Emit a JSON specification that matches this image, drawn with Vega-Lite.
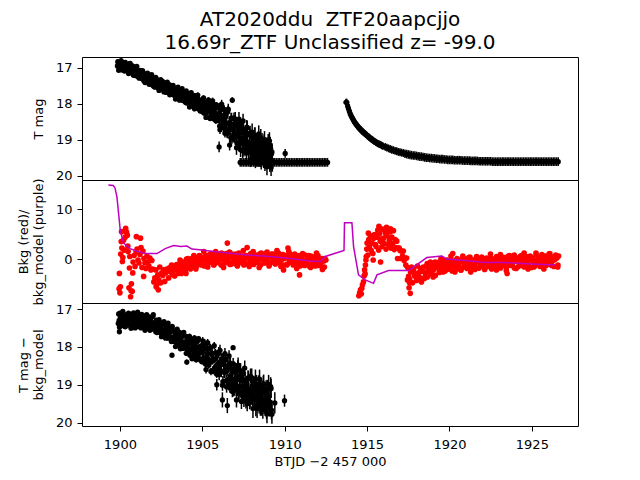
{
"$schema": "https://vega.github.io/schema/vega-lite/v6.json",
"background": "white",
"padding": {"left": 16, "top": 9, "right": 10, "bottom": 8},
"title": {"text": ["AT2020ddu\u00a0 ZTF20aapcjjo", "16.69r_ZTF Unclassified z= -99.0"], "font": "DejaVu Sans", "fontSize": 20, "fontWeight": "normal", "color": "black", "anchor": "middle", "frame": "group", "offset": 4, "lineHeight": 23},
"config": {
  "font": "DejaVu Sans",
  "view": {"stroke": "black", "strokeWidth": 1},
  "axis": {"grid": false, "domain": false, "tickColor": "black", "tickSize": 5, "tickWidth": 1, "labelColor": "black", "labelFontSize": 13, "labelFont": "DejaVu Sans", "labelPadding": 5, "titleFont": "DejaVu Sans", "titleFontSize": 13, "titleFontWeight": "normal", "titleColor": "black", "titlePadding": 10, "titleLineHeight": 15}
},
"datasets": {
"p1": [
{"x":1899.85,"m":16.95,"e":0.03},{"x":1899.90,"m":16.84,"e":0.03},{"x":1899.95,"m":17.00,"e":0.03},{"x":1900.00,"m":16.93,"e":0.03},{"x":1900.05,"m":17.05,"e":0.03},{"x":1900.10,"m":16.90,"e":0.03},{"x":1900.15,"m":16.97,"e":0.03},{"x":1900.20,"m":16.86,"e":0.03},{"x":1900.25,"m":17.01,"e":0.03},{"x":1900.30,"m":17.05,"e":0.03},{"x":1900.35,"m":16.95,"e":0.03},{"x":1900.40,"m":16.92,"e":0.03},{"x":1900.45,"m":17.02,"e":0.03},{"x":1900.50,"m":17.10,"e":0.03},{"x":1900.55,"m":16.89,"e":0.03},{"x":1900.60,"m":17.08,"e":0.03},{"x":1900.65,"m":17.02,"e":0.03},{"x":1900.70,"m":17.05,"e":0.03},{"x":1900.75,"m":16.98,"e":0.03},{"x":1900.80,"m":17.18,"e":0.03},{"x":1900.85,"m":17.09,"e":0.03},{"x":1900.90,"m":17.05,"e":0.03},{"x":1900.95,"m":17.18,"e":0.03},{"x":1901.00,"m":17.01,"e":0.03},{"x":1901.05,"m":17.17,"e":0.03},{"x":1901.10,"m":17.25,"e":0.03},{"x":1901.15,"m":17.10,"e":0.03},{"x":1901.20,"m":17.16,"e":0.03},{"x":1901.25,"m":17.27,"e":0.03},{"x":1901.30,"m":17.10,"e":0.03},{"x":1901.35,"m":17.23,"e":0.03},{"x":1901.40,"m":17.18,"e":0.03},{"x":1901.45,"m":17.36,"e":0.03},{"x":1901.50,"m":17.18,"e":0.03},{"x":1901.55,"m":17.31,"e":0.03},{"x":1901.60,"m":17.26,"e":0.03},{"x":1901.65,"m":17.35,"e":0.03},{"x":1901.70,"m":17.18,"e":0.03},{"x":1901.75,"m":17.33,"e":0.03},{"x":1901.80,"m":17.40,"e":0.03},{"x":1901.85,"m":17.38,"e":0.03},{"x":1901.90,"m":17.25,"e":0.03},{"x":1901.95,"m":17.44,"e":0.03},
{"x":1902.00,"m":17.37,"e":0.04},{"x":1902.05,"m":17.51,"e":0.04},{"x":1902.10,"m":17.33,"e":0.04},{"x":1902.15,"m":17.42,"e":0.04},{"x":1902.20,"m":17.30,"e":0.04},{"x":1902.25,"m":17.49,"e":0.04},{"x":1902.30,"m":17.54,"e":0.04},{"x":1902.35,"m":17.42,"e":0.04},{"x":1902.40,"m":17.39,"e":0.04},{"x":1902.45,"m":17.51,"e":0.04},{"x":1902.50,"m":17.59,"e":0.04},{"x":1902.55,"m":17.37,"e":0.04},{"x":1902.60,"m":17.58,"e":0.04},{"x":1902.65,"m":17.49,"e":0.04},{"x":1902.70,"m":17.53,"e":0.04},{"x":1902.75,"m":17.46,"e":0.04},{"x":1902.80,"m":17.68,"e":0.04},{"x":1902.85,"m":17.58,"e":0.04},{"x":1902.90,"m":17.53,"e":0.04},{"x":1902.95,"m":17.67,"e":0.04},{"x":1903.00,"m":17.47,"e":0.04},{"x":1903.05,"m":17.65,"e":0.04},{"x":1903.10,"m":17.73,"e":0.04},{"x":1903.15,"m":17.56,"e":0.04},{"x":1903.20,"m":17.63,"e":0.04},{"x":1903.25,"m":17.76,"e":0.04},{"x":1903.30,"m":17.56,"e":0.04},{"x":1903.35,"m":17.71,"e":0.04},{"x":1903.40,"m":17.65,"e":0.04},{"x":1903.45,"m":17.84,"e":0.04},
{"x":1903.50,"m":17.63,"e":0.05},{"x":1903.55,"m":17.78,"e":0.05},{"x":1903.60,"m":17.70,"e":0.05},{"x":1903.65,"m":17.81,"e":0.05},{"x":1903.70,"m":17.61,"e":0.05},{"x":1903.75,"m":17.78,"e":0.05},{"x":1903.80,"m":17.86,"e":0.05},{"x":1903.85,"m":17.83,"e":0.05},{"x":1903.90,"m":17.69,"e":0.05},{"x":1903.95,"m":17.89,"e":0.05},{"x":1904.00,"m":17.80,"e":0.05},{"x":1904.05,"m":17.98,"e":0.05},{"x":1904.10,"m":17.76,"e":0.05},{"x":1904.15,"m":17.87,"e":0.05},{"x":1904.20,"m":17.72,"e":0.05},{"x":1904.25,"m":17.95,"e":0.05},{"x":1904.30,"m":18.01,"e":0.05},{"x":1904.35,"m":17.85,"e":0.05},{"x":1904.40,"m":17.81,"e":0.05},{"x":1904.45,"m":17.95,"e":0.05},
{"x":1904.50,"m":18.08,"e":0.07},{"x":1904.55,"m":17.78,"e":0.07},{"x":1904.60,"m":18.05,"e":0.07},{"x":1904.65,"m":17.94,"e":0.07},{"x":1904.70,"m":17.98,"e":0.07},{"x":1904.75,"m":17.87,"e":0.07},{"x":1904.80,"m":18.15,"e":0.07},{"x":1904.85,"m":18.04,"e":0.07},{"x":1904.90,"m":17.96,"e":0.07},{"x":1904.95,"m":18.14,"e":0.07},{"x":1905.00,"m":17.90,"e":0.07},{"x":1905.05,"m":18.13,"e":0.07},{"x":1905.10,"m":18.26,"e":0.07},{"x":1905.15,"m":17.98,"e":0.07},{"x":1905.20,"m":18.08,"e":0.07},{"x":1905.25,"m":18.26,"e":0.07},{"x":1905.30,"m":17.95,"e":0.07},{"x":1905.35,"m":18.18,"e":0.07},{"x":1905.40,"m":18.08,"e":0.07},{"x":1905.45,"m":18.38,"e":0.07},
{"x":1905.50,"m":18.05,"e":0.09},{"x":1905.55,"m":18.28,"e":0.09},{"x":1905.60,"m":18.16,"e":0.09},{"x":1905.65,"m":18.32,"e":0.09},{"x":1905.70,"m":18.01,"e":0.09},{"x":1905.75,"m":18.26,"e":0.09},{"x":1905.80,"m":18.38,"e":0.09},{"x":1905.85,"m":18.33,"e":0.09},{"x":1905.90,"m":18.10,"e":0.09},{"x":1905.95,"m":18.42,"e":0.09},
{"x":1906.00,"m":18.27,"e":0.12},{"x":1906.02,"m":19.20,"e":0.15},{"x":1906.05,"m":18.62,"e":0.12},{"x":1906.10,"m":18.18,"e":0.12},{"x":1906.15,"m":18.40,"e":0.12},{"x":1906.20,"m":18.09,"e":0.12},{"x":1906.25,"m":18.54,"e":0.12},{"x":1906.30,"m":18.67,"e":0.12},{"x":1906.35,"m":18.36,"e":0.12},{"x":1906.40,"m":18.28,"e":0.12},{"x":1906.45,"m":18.57,"e":0.12},
{"x":1906.50,"m":18.79,"e":0.15},{"x":1906.55,"m":18.22,"e":0.15},{"x":1906.60,"m":18.74,"e":0.15},{"x":1906.65,"m":18.53,"e":0.15},{"x":1906.66,"m":19.15,"e":0.15},{"x":1906.70,"m":18.62,"e":0.15},{"x":1906.75,"m":18.41,"e":0.15},{"x":1906.80,"m":18.96,"e":0.15},{"x":1906.82,"m":17.90,"e":0.08},{"x":1906.85,"m":18.72,"e":0.15},{"x":1906.90,"m":18.58,"e":0.15},{"x":1906.95,"m":18.93,"e":0.15},
{"x":1907.00,"m":18.43,"e":0.2},{"x":1907.05,"m":18.88,"e":0.2},{"x":1907.10,"m":19.09,"e":0.2},{"x":1907.15,"m":18.62,"e":0.2},{"x":1907.20,"m":18.79,"e":0.2},{"x":1907.25,"m":19.12,"e":0.2},{"x":1907.30,"m":18.57,"e":0.2},{"x":1907.35,"m":18.97,"e":0.2},{"x":1907.40,"m":18.80,"e":0.2},{"x":1907.45,"m":19.31,"e":0.2},{"x":1907.50,"m":18.72,"e":0.2},{"x":1907.55,"m":19.12,"e":0.2},{"x":1907.60,"m":18.91,"e":0.2},{"x":1907.65,"m":19.20,"e":0.2},{"x":1907.70,"m":18.65,"e":0.2},{"x":1907.75,"m":19.09,"e":0.2},{"x":1907.80,"m":19.30,"e":0.2},{"x":1907.85,"m":19.20,"e":0.2},{"x":1907.90,"m":18.81,"e":0.2},{"x":1907.95,"m":19.36,"e":0.2},
{"x":1908.00,"m":19.11,"e":0.24},{"x":1908.05,"m":19.46,"e":0.24},{"x":1908.10,"m":19.01,"e":0.24},{"x":1908.15,"m":19.21,"e":0.24},{"x":1908.20,"m":18.89,"e":0.24},{"x":1908.25,"m":19.34,"e":0.24},{"x":1908.30,"m":19.45,"e":0.24},{"x":1908.35,"m":19.13,"e":0.24},{"x":1908.40,"m":19.04,"e":0.24},{"x":1908.45,"m":19.32,"e":0.24},{"x":1908.50,"m":19.52,"e":0.24},{"x":1908.55,"m":18.94,"e":0.24},{"x":1908.60,"m":19.45,"e":0.24},{"x":1908.65,"m":19.23,"e":0.24},{"x":1908.70,"m":19.31,"e":0.24},{"x":1908.75,"m":19.09,"e":0.24},{"x":1908.80,"m":19.63,"e":0.24},{"x":1908.85,"m":19.37,"e":0.24},{"x":1908.90,"m":19.22,"e":0.24},{"x":1908.95,"m":19.57,"e":0.24},{"x":1909.00,"m":19.08,"e":0.24},{"x":1909.05,"m":19.49,"e":0.24},{"x":1909.10,"m":19.66,"e":0.24},{"x":1909.15,"m":19.25,"e":0.24},{"x":1909.20,"m":19.39,"e":0.24},{"x":1909.25,"m":19.65,"e":0.24},{"x":1910.03,"m":19.38,"e":0.12},
{"x":1899.875,"m":16.83,"e":0.03},{"x":1899.925,"m":17.07,"e":0.03},{"x":1899.975,"m":16.90,"e":0.03},{"x":1900.025,"m":17.00,"e":0.03},{"x":1900.075,"m":16.80,"e":0.03},{"x":1900.125,"m":17.06,"e":0.03},{"x":1900.175,"m":16.96,"e":0.03},{"x":1900.225,"m":16.90,"e":0.03},{"x":1900.275,"m":17.09,"e":0.03},{"x":1900.325,"m":16.85,"e":0.03},{"x":1900.375,"m":17.03,"e":0.03},{"x":1900.425,"m":17.08,"e":0.03},{"x":1900.475,"m":16.93,"e":0.03},{"x":1900.525,"m":17.16,"e":0.03},{"x":1900.575,"m":16.99,"e":0.03},{"x":1900.625,"m":16.88,"e":0.03},{"x":1900.675,"m":17.12,"e":0.03},{"x":1900.725,"m":17.08,"e":0.03},{"x":1900.775,"m":16.95,"e":0.03},{"x":1900.825,"m":17.21,"e":0.03},{"x":1900.875,"m":17.03,"e":0.03},{"x":1900.925,"m":17.12,"e":0.03},{"x":1900.975,"m":17.22,"e":0.03},{"x":1901.025,"m":16.96,"e":0.03},{"x":1901.075,"m":17.19,"e":0.03},{"x":1901.125,"m":17.12,"e":0.03},{"x":1901.175,"m":17.29,"e":0.03},{"x":1901.225,"m":17.07,"e":0.03},{"x":1901.275,"m":17.19,"e":0.03},{"x":1901.325,"m":17.30,"e":0.03},{"x":1901.375,"m":17.08,"e":0.03},{"x":1901.425,"m":17.27,"e":0.03},{"x":1901.475,"m":17.18,"e":0.03},{"x":1901.525,"m":17.41,"e":0.03},{"x":1901.575,"m":17.18,"e":0.03},{"x":1901.625,"m":17.31,"e":0.03},{"x":1901.675,"m":17.15,"e":0.03},{"x":1901.725,"m":17.20,"e":0.03},{"x":1901.775,"m":17.46,"e":0.03},{"x":1901.825,"m":17.30,"e":0.03},{"x":1901.875,"m":17.40,"e":0.03},{"x":1901.925,"m":17.19,"e":0.03},{"x":1901.975,"m":17.48,"e":0.03},
{"x":1902.025,"m":17.38,"e":0.04},{"x":1902.075,"m":17.32,"e":0.04},{"x":1902.125,"m":17.54,"e":0.04},{"x":1902.175,"m":17.27,"e":0.04},{"x":1902.225,"m":17.47,"e":0.04},{"x":1902.275,"m":17.54,"e":0.04},{"x":1902.325,"m":17.37,"e":0.04},{"x":1902.375,"m":17.63,"e":0.04},{"x":1902.425,"m":17.45,"e":0.04},{"x":1902.475,"m":17.33,"e":0.04},{"x":1902.525,"m":17.58,"e":0.04},{"x":1902.575,"m":17.53,"e":0.04},{"x":1902.625,"m":17.39,"e":0.04},{"x":1902.675,"m":17.67,"e":0.04},{"x":1902.725,"m":17.48,"e":0.04},{"x":1902.775,"m":17.57,"e":0.04},{"x":1902.825,"m":17.68,"e":0.04},{"x":1902.875,"m":17.40,"e":0.04},{"x":1902.925,"m":17.65,"e":0.04},{"x":1902.975,"m":17.56,"e":0.04},{"x":1903.025,"m":17.75,"e":0.04},{"x":1903.075,"m":17.50,"e":0.04},{"x":1903.125,"m":17.62,"e":0.04},{"x":1903.175,"m":17.74,"e":0.04},{"x":1903.225,"m":17.49,"e":0.04},{"x":1903.275,"m":17.72,"e":0.04},{"x":1903.325,"m":17.59,"e":0.04},{"x":1903.375,"m":17.87,"e":0.04},{"x":1903.425,"m":17.60,"e":0.04},{"x":1903.475,"m":17.74,"e":0.04},
{"x":1903.525,"m":17.54,"e":0.05},{"x":1903.575,"m":17.61,"e":0.05},{"x":1903.625,"m":17.90,"e":0.05},{"x":1903.675,"m":17.70,"e":0.05},{"x":1903.725,"m":17.83,"e":0.05},{"x":1903.775,"m":17.58,"e":0.05},{"x":1903.825,"m":17.91,"e":0.05},{"x":1903.875,"m":17.79,"e":0.05},{"x":1903.925,"m":17.72,"e":0.05},{"x":1903.975,"m":17.96,"e":0.05},{"x":1904.025,"m":17.64,"e":0.05},{"x":1904.075,"m":17.90,"e":0.05},{"x":1904.125,"m":17.97,"e":0.05},{"x":1904.175,"m":17.74,"e":0.05},{"x":1904.225,"m":18.09,"e":0.05},{"x":1904.275,"m":17.86,"e":0.05},{"x":1904.325,"m":17.69,"e":0.05},{"x":1904.375,"m":18.01,"e":0.05},{"x":1904.425,"m":17.95,"e":0.05},{"x":1904.475,"m":17.77,"e":0.05},
{"x":1904.525,"m":18.14,"e":0.07},{"x":1904.575,"m":17.88,"e":0.07},{"x":1904.625,"m":17.98,"e":0.07},{"x":1904.675,"m":18.12,"e":0.07},{"x":1904.725,"m":17.76,"e":0.07},{"x":1904.775,"m":18.08,"e":0.07},{"x":1904.825,"m":17.96,"e":0.07},{"x":1904.875,"m":18.20,"e":0.07},{"x":1904.925,"m":17.90,"e":0.07},{"x":1904.975,"m":18.04,"e":0.07},{"x":1905.025,"m":18.22,"e":0.07},{"x":1905.075,"m":17.84,"e":0.07},{"x":1905.125,"m":18.16,"e":0.07},{"x":1905.175,"m":17.98,"e":0.07},{"x":1905.225,"m":18.38,"e":0.07},{"x":1905.275,"m":17.97,"e":0.07},{"x":1905.325,"m":18.19,"e":0.07},{"x":1905.375,"m":17.89,"e":0.07},{"x":1905.425,"m":17.98,"e":0.07},{"x":1905.475,"m":18.41,"e":0.07},
{"x":1905.525,"m":18.12,"e":0.09},{"x":1905.575,"m":18.30,"e":0.09},{"x":1905.625,"m":17.92,"e":0.09},{"x":1905.675,"m":18.41,"e":0.09},{"x":1905.725,"m":18.23,"e":0.09},{"x":1905.775,"m":18.13,"e":0.09},{"x":1905.825,"m":18.47,"e":0.09},{"x":1905.875,"m":18.04,"e":0.09},{"x":1905.925,"m":18.36,"e":0.09},{"x":1905.975,"m":18.46,"e":0.09},
{"x":1906.025,"m":18.10,"e":0.12},{"x":1906.075,"m":18.72,"e":0.12},{"x":1906.125,"m":18.31,"e":0.12},{"x":1906.175,"m":18.01,"e":0.12},{"x":1906.225,"m":18.59,"e":0.12},{"x":1906.275,"m":18.49,"e":0.12},{"x":1906.325,"m":18.16,"e":0.12},{"x":1906.375,"m":18.82,"e":0.12},{"x":1906.425,"m":18.36,"e":0.12},{"x":1906.475,"m":18.54,"e":0.12},
{"x":1906.525,"m":18.81,"e":0.15},{"x":1906.575,"m":18.15,"e":0.15},{"x":1906.625,"m":18.73,"e":0.15},{"x":1906.675,"m":18.52,"e":0.15},{"x":1906.725,"m":18.94,"e":0.15},{"x":1906.775,"m":18.40,"e":0.15},{"x":1906.825,"m":18.66,"e":0.15},{"x":1906.875,"m":18.93,"e":0.15},{"x":1906.925,"m":18.39,"e":0.15},{"x":1906.975,"m":18.85,"e":0.15},
{"x":1907.025,"m":18.57,"e":0.2},{"x":1907.075,"m":19.22,"e":0.2},{"x":1907.125,"m":18.57,"e":0.2},{"x":1907.175,"m":18.90,"e":0.2},{"x":1907.225,"m":18.43,"e":0.2},{"x":1907.275,"m":18.58,"e":0.2},{"x":1907.325,"m":19.28,"e":0.2},{"x":1907.375,"m":18.80,"e":0.2},{"x":1907.425,"m":19.09,"e":0.2},{"x":1907.475,"m":18.48,"e":0.2},{"x":1907.525,"m":19.27,"e":0.2},{"x":1907.575,"m":18.97,"e":0.2},{"x":1907.625,"m":18.81,"e":0.2},{"x":1907.675,"m":19.37,"e":0.2},{"x":1907.725,"m":18.67,"e":0.2},{"x":1907.775,"m":19.19,"e":0.2},{"x":1907.825,"m":19.34,"e":0.2},{"x":1907.875,"m":18.87,"e":0.2},{"x":1907.925,"m":19.56,"e":0.2},{"x":1907.975,"m":19.09,"e":0.2},
{"x":1908.025,"m":18.79,"e":0.24},{"x":1908.075,"m":19.36,"e":0.24},{"x":1908.125,"m":19.25,"e":0.24},{"x":1908.175,"m":18.90,"e":0.24},{"x":1908.225,"m":19.55,"e":0.24},{"x":1908.275,"m":19.09,"e":0.24},{"x":1908.325,"m":19.26,"e":0.24},{"x":1908.375,"m":19.51,"e":0.24},{"x":1908.425,"m":18.84,"e":0.24},{"x":1908.475,"m":19.41,"e":0.24},{"x":1908.525,"m":19.18,"e":0.24},{"x":1908.575,"m":19.59,"e":0.24},{"x":1908.625,"m":19.05,"e":0.24},{"x":1908.675,"m":19.30,"e":0.24},{"x":1908.725,"m":19.55,"e":0.24},{"x":1908.775,"m":19.00,"e":0.24},{"x":1908.825,"m":19.45,"e":0.24},{"x":1908.875,"m":19.18,"e":0.24},{"x":1908.925,"m":19.75,"e":0.24},{"x":1908.975,"m":19.17,"e":0.24},{"x":1909.025,"m":19.46,"e":0.24},{"x":1909.075,"m":19.03,"e":0.24},{"x":1909.125,"m":19.16,"e":0.24},{"x":1909.175,"m":19.77,"e":0.24},{"x":1909.225,"m":19.34,"e":0.24},
{"x":1907.3,"m":19.63,"e":0.12},{"x":1907.4,"m":19.63,"e":0.12},{"x":1907.5,"m":19.63,"e":0.12},{"x":1907.6,"m":19.63,"e":0.12},{"x":1907.7,"m":19.63,"e":0.12},{"x":1907.8,"m":19.63,"e":0.12},{"x":1907.9,"m":19.63,"e":0.12},{"x":1908.0,"m":19.63,"e":0.12},{"x":1908.1,"m":19.63,"e":0.12},{"x":1908.2,"m":19.63,"e":0.12},{"x":1908.3,"m":19.63,"e":0.12},{"x":1908.4,"m":19.63,"e":0.12},{"x":1908.5,"m":19.63,"e":0.12},{"x":1908.6,"m":19.63,"e":0.12},{"x":1908.7,"m":19.63,"e":0.12},{"x":1908.8,"m":19.63,"e":0.12},{"x":1908.9,"m":19.63,"e":0.12},{"x":1909.0,"m":19.63,"e":0.12},{"x":1909.1,"m":19.63,"e":0.12},{"x":1909.2,"m":19.63,"e":0.12},{"x":1909.3,"m":19.63,"e":0.12},{"x":1909.4,"m":19.63,"e":0.12},{"x":1909.5,"m":19.63,"e":0.12},{"x":1909.6,"m":19.63,"e":0.12},{"x":1909.7,"m":19.63,"e":0.12},{"x":1909.8,"m":19.63,"e":0.12},{"x":1909.9,"m":19.63,"e":0.12},{"x":1910.0,"m":19.63,"e":0.12},{"x":1910.1,"m":19.63,"e":0.12},{"x":1910.2,"m":19.63,"e":0.12},{"x":1910.3,"m":19.63,"e":0.12},{"x":1910.4,"m":19.63,"e":0.12},{"x":1910.5,"m":19.63,"e":0.12},{"x":1910.6,"m":19.63,"e":0.12},{"x":1910.7,"m":19.63,"e":0.12},{"x":1910.8,"m":19.63,"e":0.12},{"x":1910.9,"m":19.63,"e":0.12},{"x":1911.0,"m":19.63,"e":0.12},{"x":1911.1,"m":19.63,"e":0.12},{"x":1911.2,"m":19.63,"e":0.12},{"x":1911.3,"m":19.63,"e":0.12},{"x":1911.4,"m":19.63,"e":0.12},{"x":1911.5,"m":19.63,"e":0.12},{"x":1911.6,"m":19.63,"e":0.12},{"x":1911.7,"m":19.63,"e":0.12},{"x":1911.8,"m":19.63,"e":0.12},{"x":1911.9,"m":19.63,"e":0.12},{"x":1912.0,"m":19.63,"e":0.12},{"x":1912.1,"m":19.63,"e":0.12},{"x":1912.2,"m":19.63,"e":0.12},{"x":1912.3,"m":19.63,"e":0.12},{"x":1912.4,"m":19.63,"e":0.12},{"x":1912.5,"m":19.63,"e":0.12},{"x":1912.6,"m":19.63,"e":0.12},
{"x":1913.72,"m":17.96,"e":0.1},{"x":1913.77,"m":17.96,"e":0.1},{"x":1913.82,"m":18.06,"e":0.1},{"x":1913.87,"m":18.13,"e":0.1},{"x":1913.92,"m":18.20,"e":0.1},{"x":1913.97,"m":18.27,"e":0.1},{"x":1914.02,"m":18.32,"e":0.1},{"x":1914.07,"m":18.37,"e":0.1},{"x":1914.12,"m":18.41,"e":0.1},{"x":1914.17,"m":18.45,"e":0.1},{"x":1914.22,"m":18.49,"e":0.1},{"x":1914.27,"m":18.53,"e":0.1},{"x":1914.32,"m":18.56,"e":0.1},{"x":1914.37,"m":18.59,"e":0.1},{"x":1914.42,"m":18.62,"e":0.1},{"x":1914.47,"m":18.65,"e":0.1},{"x":1914.52,"m":18.67,"e":0.1},{"x":1914.57,"m":18.70,"e":0.1},{"x":1914.62,"m":18.72,"e":0.1},{"x":1914.67,"m":18.75,"e":0.1},{"x":1914.72,"m":18.77,"e":0.1},{"x":1914.77,"m":18.79,"e":0.1},{"x":1914.82,"m":18.81,"e":0.1},{"x":1914.87,"m":18.83,"e":0.1},{"x":1914.92,"m":18.85,"e":0.1},{"x":1914.97,"m":18.87,"e":0.1},{"x":1915.02,"m":18.89,"e":0.1},{"x":1915.07,"m":18.91,"e":0.1},{"x":1915.12,"m":18.93,"e":0.1},{"x":1915.17,"m":18.95,"e":0.1},{"x":1915.22,"m":18.97,"e":0.1},{"x":1915.27,"m":18.99,"e":0.1},{"x":1915.32,"m":19.00,"e":0.1},{"x":1915.37,"m":19.02,"e":0.1},{"x":1915.42,"m":19.04,"e":0.1},{"x":1915.47,"m":19.05,"e":0.1},{"x":1915.52,"m":19.07,"e":0.1},{"x":1915.57,"m":19.08,"e":0.1},{"x":1915.62,"m":19.10,"e":0.1},{"x":1915.67,"m":19.11,"e":0.1},{"x":1915.72,"m":19.12,"e":0.1},{"x":1915.77,"m":19.13,"e":0.1},{"x":1915.82,"m":19.14,"e":0.1},{"x":1915.87,"m":19.15,"e":0.1},{"x":1915.92,"m":19.17,"e":0.1},{"x":1915.97,"m":19.18,"e":0.1},
{"x":1916.1,"m":19.20,"e":0.11},{"x":1916.2,"m":19.22,"e":0.11},{"x":1916.3,"m":19.24,"e":0.11},{"x":1916.4,"m":19.26,"e":0.11},{"x":1916.5,"m":19.28,"e":0.11},{"x":1916.6,"m":19.29,"e":0.11},{"x":1916.7,"m":19.31,"e":0.11},{"x":1916.8,"m":19.32,"e":0.11},{"x":1916.9,"m":19.34,"e":0.11},{"x":1917.0,"m":19.35,"e":0.11},{"x":1917.1,"m":19.36,"e":0.11},{"x":1917.2,"m":19.37,"e":0.11},{"x":1917.3,"m":19.39,"e":0.12},{"x":1917.4,"m":19.40,"e":0.12},{"x":1917.5,"m":19.41,"e":0.12},{"x":1917.6,"m":19.42,"e":0.12},{"x":1917.7,"m":19.43,"e":0.12},{"x":1917.8,"m":19.44,"e":0.12},{"x":1917.9,"m":19.44,"e":0.12},{"x":1918.0,"m":19.45,"e":0.12},{"x":1918.1,"m":19.46,"e":0.12},{"x":1918.2,"m":19.47,"e":0.12},{"x":1918.3,"m":19.47,"e":0.12},{"x":1918.4,"m":19.48,"e":0.12},{"x":1918.5,"m":19.49,"e":0.12},{"x":1918.6,"m":19.50,"e":0.12},{"x":1918.7,"m":19.50,"e":0.12},{"x":1918.8,"m":19.51,"e":0.12},{"x":1918.9,"m":19.51,"e":0.12},{"x":1919.0,"m":19.52,"e":0.12},{"x":1919.1,"m":19.52,"e":0.12},{"x":1919.2,"m":19.53,"e":0.12},{"x":1919.3,"m":19.53,"e":0.12},{"x":1919.4,"m":19.54,"e":0.12},{"x":1919.5,"m":19.54,"e":0.12},{"x":1919.6,"m":19.54,"e":0.12},{"x":1919.7,"m":19.55,"e":0.12},{"x":1919.8,"m":19.55,"e":0.12},{"x":1919.9,"m":19.56,"e":0.12},{"x":1920.0,"m":19.56,"e":0.12},{"x":1920.1,"m":19.56,"e":0.12},{"x":1920.2,"m":19.56,"e":0.12},{"x":1920.3,"m":19.57,"e":0.12},{"x":1920.4,"m":19.57,"e":0.12},{"x":1920.5,"m":19.57,"e":0.12},{"x":1920.6,"m":19.57,"e":0.12},{"x":1920.7,"m":19.57,"e":0.12},{"x":1920.8,"m":19.58,"e":0.12},{"x":1920.9,"m":19.58,"e":0.12},{"x":1921.0,"m":19.58,"e":0.12},{"x":1921.1,"m":19.58,"e":0.12},{"x":1921.2,"m":19.58,"e":0.12},{"x":1921.3,"m":19.59,"e":0.12},{"x":1921.4,"m":19.59,"e":0.12},{"x":1921.5,"m":19.59,"e":0.12},{"x":1921.6,"m":19.59,"e":0.12},{"x":1921.7,"m":19.59,"e":0.12},{"x":1921.8,"m":19.60,"e":0.12},{"x":1921.9,"m":19.60,"e":0.12},{"x":1922.0,"m":19.60,"e":0.12},{"x":1922.1,"m":19.60,"e":0.12},{"x":1922.2,"m":19.60,"e":0.12},{"x":1922.3,"m":19.60,"e":0.12},{"x":1922.4,"m":19.60,"e":0.12},{"x":1922.5,"m":19.60,"e":0.12},{"x":1922.6,"m":19.61,"e":0.12},{"x":1922.7,"m":19.61,"e":0.12},{"x":1922.8,"m":19.61,"e":0.12},{"x":1922.9,"m":19.61,"e":0.12},{"x":1923.0,"m":19.61,"e":0.12},{"x":1923.1,"m":19.61,"e":0.12},{"x":1923.2,"m":19.61,"e":0.12},{"x":1923.3,"m":19.61,"e":0.12},{"x":1923.4,"m":19.61,"e":0.12},{"x":1923.5,"m":19.61,"e":0.12},{"x":1923.6,"m":19.61,"e":0.12},{"x":1923.7,"m":19.61,"e":0.12},{"x":1923.8,"m":19.61,"e":0.12},{"x":1923.9,"m":19.61,"e":0.12},{"x":1924.0,"m":19.61,"e":0.12},{"x":1924.1,"m":19.61,"e":0.12},{"x":1924.2,"m":19.61,"e":0.12},{"x":1924.3,"m":19.61,"e":0.12},{"x":1924.4,"m":19.61,"e":0.12},{"x":1924.5,"m":19.61,"e":0.12},{"x":1924.6,"m":19.61,"e":0.12},{"x":1924.7,"m":19.61,"e":0.12},{"x":1924.8,"m":19.61,"e":0.12},{"x":1924.9,"m":19.61,"e":0.12},{"x":1925.0,"m":19.61,"e":0.12},{"x":1925.1,"m":19.61,"e":0.12},{"x":1925.2,"m":19.61,"e":0.12},{"x":1925.3,"m":19.61,"e":0.12},{"x":1925.4,"m":19.61,"e":0.12},{"x":1925.5,"m":19.61,"e":0.12},{"x":1925.6,"m":19.61,"e":0.12},{"x":1925.7,"m":19.61,"e":0.12},{"x":1925.8,"m":19.61,"e":0.12},{"x":1925.9,"m":19.61,"e":0.12},{"x":1926.0,"m":19.61,"e":0.12},{"x":1926.1,"m":19.61,"e":0.12},{"x":1926.2,"m":19.61,"e":0.12},{"x":1926.3,"m":19.61,"e":0.12},{"x":1926.4,"m":19.61,"e":0.12},{"x":1926.5,"m":19.61,"e":0.12},{"x":1926.6,"m":19.61,"e":0.12}
],
"bk": [
{"x":1899.95,"b":-6.0},{"x":1899.97,"b":-2.9},{"x":1900.00,"b":-6.8},{"x":1900.03,"b":-5.6},{"x":1900.05,"b":1.0},{"x":1900.08,"b":3.5},{"x":1900.10,"b":5.5},{"x":1900.12,"b":2.2},{"x":1900.15,"b":-0.5},{"x":1900.18,"b":0.3},{"x":1900.22,"b":3.8},{"x":1900.27,"b":1.8},{"x":1900.32,"b":4.4},{"x":1900.35,"b":6.2},{"x":1900.40,"b":5.4},{"x":1900.45,"b":4.8},{"x":1900.48,"b":2.6},{"x":1900.50,"b":1.5},{"x":1900.55,"b":-5.8},{"x":1900.58,"b":-1.8},{"x":1900.60,"b":0.5},{"x":1900.65,"b":-7.6},{"x":1900.68,"b":-6.4},{"x":1900.70,"b":-5.0},{"x":1900.75,"b":-6.5},{"x":1900.78,"b":-2.8},
{"x":1900.80,"b":-0.6},{"x":1900.86,"b":0.7},{"x":1900.92,"b":-1.5},{"x":1900.98,"b":1.4},{"x":1901.04,"b":2.0},{"x":1901.10,"b":-0.2},{"x":1901.16,"b":-0.8},{"x":1901.22,"b":0.9},{"x":1901.28,"b":2.3},{"x":1901.34,"b":-1.7},{"x":1901.40,"b":1.6},{"x":1901.46,"b":0.1},{"x":1901.00,"b":4.5},{"x":1901.25,"b":4.2},{"x":1901.44,"b":-3.5},{"x":1901.52,"b":-0.8},{"x":1901.58,"b":-1.9},{"x":1901.64,"b":0.6},{"x":1901.70,"b":-0.6},{"x":1901.76,"b":-1.4},{"x":1901.82,"b":0.2},{"x":1901.88,"b":-2.2},{"x":1901.94,"b":-0.3},
{"x":1902.00,"b":-2.0},{"x":1902.06,"b":-4.6},{"x":1902.12,"b":-3.8},{"x":1902.18,"b":-2.2},{"x":1902.24,"b":-5.2},{"x":1902.30,"b":-3.2},{"x":1902.36,"b":-4.2},{"x":1902.42,"b":-1.6},{"x":1902.48,"b":-4.8},{"x":1902.54,"b":-2.8},{"x":1902.33,"b":-6.2},{"x":1902.20,"b":-5.6},{"x":1902.60,"b":-3.3},{"x":1902.66,"b":-2.2},{"x":1902.72,"b":-4.5},{"x":1902.78,"b":-2.8},{"x":1902.84,"b":-2.0},{"x":1902.90,"b":-2.3},{"x":1902.96,"b":-3.8},{"x":1903.02,"b":-1.7},{"x":1903.08,"b":-2.6},{"x":1903.14,"b":-1.2},{"x":1903.20,"b":-3.1},{"x":1903.26,"b":-2.2},{"x":1903.32,"b":-3.4},{"x":1903.38,"b":-1.6},{"x":1903.44,"b":-1.1},{"x":1903.50,"b":-2.3},{"x":1903.56,"b":-2.6},{"x":1903.62,"b":-1.4},{"x":1903.68,"b":-0.5},{"x":1903.74,"b":-2.9},{"x":1903.80,"b":-0.8},{"x":1903.86,"b":-1.6},{"x":1903.92,"b":-1.3},{"x":1903.98,"b":-2.1},{"x":1904.04,"b":0.0},{"x":1904.10,"b":-1.0},{"x":1904.16,"b":-1.5},{"x":1904.22,"b":-0.2},{"x":1904.28,"b":-2.0},{"x":1904.34,"b":-0.5},{"x":1904.40,"b":0.2},{"x":1904.46,"b":-1.3},{"x":1904.52,"b":-0.8},{"x":1904.58,"b":0.3},{"x":1904.64,"b":-1.5},{"x":1904.70,"b":-0.3},{"x":1904.76,"b":-0.8},{"x":1904.82,"b":0.7},{"x":1904.88,"b":-1.1},{"x":1904.94,"b":0.0},{"x":1905.00,"b":-0.5},{"x":1905.06,"b":0.4},{"x":1905.12,"b":-1.4},{"x":1905.18,"b":-0.1},{"x":1905.24,"b":0.7},{"x":1905.30,"b":0.3},{"x":1905.36,"b":-0.9},{"x":1905.42,"b":0.7},{"x":1905.48,"b":-0.1},
{"x":1905.54,"b":1.1},{"x":1905.60,"b":-0.6},{"x":1905.66,"b":0.1},{"x":1905.72,"b":-1.1},{"x":1905.78,"b":0.5},{"x":1905.84,"b":0.8},{"x":1905.90,"b":-0.4},{"x":1905.96,"b":-0.7},{"x":1906.02,"b":0.2},{"x":1906.08,"b":1.0},{"x":1906.14,"b":-1.2},{"x":1906.20,"b":0.6},{"x":1906.26,"b":-0.2},{"x":1906.32,"b":0.0},{"x":1906.38,"b":-0.8},{"x":1906.44,"b":1.1},{"x":1906.50,"b":0.1},{"x":1906.52,"b":3.2},{"x":1906.56,"b":-0.5},{"x":1906.62,"b":0.7},{"x":1906.68,"b":-1.1},{"x":1906.74,"b":0.4},{"x":1906.80,"b":1.0},{"x":1906.86,"b":-0.6},{"x":1906.92,"b":-0.1},{"x":1906.98,"b":0.8},{"x":1907.04,"b":-1.0},{"x":1907.10,"b":0.2},{"x":1907.16,"b":-0.4},{"x":1907.22,"b":1.2},{"x":1907.28,"b":-0.7},{"x":1907.34,"b":0.5},{"x":1907.40,"b":-0.2},{"x":1907.46,"b":0.6},{"x":1907.52,"b":-1.2},{"x":1907.58,"b":0.1},{"x":1907.64,"b":0.7},{"x":1907.70,"b":0.4},{"x":1907.72,"b":2.3},{"x":1907.76,"b":-1.0},{"x":1907.82,"b":0.7},{"x":1907.88,"b":-0.1},{"x":1907.94,"b":1.1},{"x":1908.00,"b":-0.6},{"x":1908.06,"b":0.1},{"x":1908.12,"b":-1.1},{"x":1908.18,"b":0.5},{"x":1908.24,"b":0.8},{"x":1908.30,"b":-0.4},{"x":1908.36,"b":-0.7},{"x":1908.42,"b":0.2},{"x":1908.48,"b":1.0},{"x":1908.54,"b":-1.2},{"x":1908.60,"b":0.6},{"x":1908.66,"b":-0.2},{"x":1908.72,"b":0.0},{"x":1908.78,"b":-0.8},{"x":1908.84,"b":1.1},{"x":1908.90,"b":0.1},{"x":1908.96,"b":-0.5},{"x":1909.02,"b":0.7},{"x":1909.08,"b":-1.1},{"x":1909.14,"b":0.4},{"x":1909.20,"b":1.0},{"x":1909.26,"b":-0.6},{"x":1909.32,"b":-0.1},{"x":1909.38,"b":0.8},{"x":1909.44,"b":-1.0},{"x":1909.50,"b":0.2},{"x":1909.56,"b":-0.4},{"x":1909.62,"b":1.2},{"x":1909.68,"b":-0.7},{"x":1909.74,"b":0.5},{"x":1909.80,"b":-0.2},{"x":1909.86,"b":0.6},{"x":1909.92,"b":-1.2},{"x":1909.93,"b":-2.2},{"x":1909.98,"b":0.1},
{"x":1910.04,"b":0.7},{"x":1910.10,"b":0.3},{"x":1910.16,"b":-1.0},{"x":1910.20,"b":2.2},{"x":1910.22,"b":0.7},{"x":1910.28,"b":-0.2},{"x":1910.34,"b":1.0},{"x":1910.40,"b":-0.7},{"x":1910.46,"b":0.0},{"x":1910.52,"b":-1.2},{"x":1910.58,"b":0.3},{"x":1910.64,"b":0.7},{"x":1910.70,"b":-0.5},{"x":1910.76,"b":-0.9},{"x":1910.82,"b":0.0},{"x":1910.88,"b":0.7},{"x":1910.90,"b":-3.2},{"x":1910.94,"b":-1.4},{"x":1911.00,"b":0.4},{"x":1911.06,"b":-0.5},{"x":1911.12,"b":-0.3},{"x":1911.18,"b":-1.1},{"x":1911.24,"b":0.8},{"x":1911.30,"b":-0.2},{"x":1911.36,"b":-0.8},{"x":1911.42,"b":0.4},{"x":1911.48,"b":-1.4},{"x":1911.54,"b":0.0},{"x":1911.60,"b":0.6},{"x":1911.66,"b":-1.0},{"x":1911.72,"b":-0.5},{"x":1911.78,"b":0.4},{"x":1911.84,"b":-1.4},{"x":1911.90,"b":-0.2},{"x":1911.96,"b":-0.8},{"x":1912.02,"b":0.7},{"x":1912.08,"b":-1.2},{"x":1912.14,"b":0.0},{"x":1912.20,"b":-0.8},{"x":1912.26,"b":0.1},{"x":1912.32,"b":-1.8},{"x":1912.38,"b":-0.4},{"x":1912.44,"b":0.1},{"x":1912.50,"b":-0.2},
{"x":1903.53,"b":-2.9},{"x":1903.65,"b":-0.2},{"x":1903.77,"b":-1.9},{"x":1903.89,"b":-0.6},{"x":1904.01,"b":-2.9},{"x":1904.13,"b":0.1},{"x":1904.25,"b":-1.0},{"x":1904.37,"b":-1.5},{"x":1904.49,"b":0.7},{"x":1904.61,"b":-2.0},{"x":1904.73,"b":0.0},{"x":1904.85,"b":0.6},{"x":1904.97,"b":-1.2},{"x":1905.09,"b":1.5},{"x":1905.21,"b":-0.4},{"x":1905.33,"b":-1.6},{"x":1905.45,"b":0.9},{"x":1905.57,"b":0.3},{"x":1905.69,"b":-1.2},{"x":1905.81,"b":1.5},{"x":1905.93,"b":-0.5},{"x":1906.05,"b":0.2},{"x":1906.17,"b":1.2},{"x":1906.29,"b":-1.7},{"x":1906.41,"b":0.7},{"x":1906.53,"b":-0.3},{"x":1906.65,"b":1.4},{"x":1906.77,"b":-1.0},{"x":1906.89,"b":0.0},{"x":1907.01,"b":1.0},{"x":1907.13,"b":-1.4},{"x":1907.25,"b":0.5},{"x":1907.37,"b":-0.7},{"x":1907.49,"b":1.7},{"x":1907.61,"b":-0.9},{"x":1907.73,"b":0.3},{"x":1907.85,"b":-1.5},{"x":1907.97,"b":-1.0},{"x":1908.09,"b":1.5},{"x":1908.21,"b":-0.3},{"x":1908.33,"b":0.7},{"x":1908.45,"b":-1.7},{"x":1908.57,"b":1.2},{"x":1908.69,"b":0.0},{"x":1908.81,"b":-0.7},{"x":1908.93,"b":1.4},{"x":1909.05,"b":-1.4},{"x":1909.17,"b":0.5},{"x":1909.29,"b":1.0},{"x":1909.41,"b":-0.9},{"x":1909.53,"b":1.7},{"x":1909.65,"b":-0.2},{"x":1909.77,"b":-1.5},{"x":1909.89,"b":0.9},{"x":1910.01,"b":0.3},{"x":1910.13,"b":-1.2},{"x":1910.25,"b":1.5},{"x":1910.37,"b":-0.6},{"x":1910.49,"b":0.1},{"x":1910.61,"b":1.0},{"x":1910.73,"b":-1.9},{"x":1910.85,"b":0.5},{"x":1910.97,"b":-0.6},{"x":1911.09,"b":1.1},{"x":1911.21,"b":-1.3},{"x":1911.33,"b":-0.3},{"x":1911.45,"b":0.7},{"x":1911.57,"b":-1.7},{"x":1911.69,"b":0.1},{"x":1911.81,"b":-1.1},{"x":1911.93,"b":1.2},{"x":1912.05,"b":-1.3},{"x":1912.17,"b":-0.2},{"x":1912.29,"b":-2.1},{"x":1912.41,"b":-1.6},
{"x":1914.50,"b":-7.4},{"x":1914.55,"b":-6.8},{"x":1914.60,"b":-6.2},{"x":1914.65,"b":-7.0},{"x":1914.68,"b":-5.9},{"x":1914.72,"b":-5.2},{"x":1914.78,"b":-4.6},{"x":1914.82,"b":-3.4},{"x":1914.85,"b":-2.2},{"x":1914.88,"b":-3.0},{"x":1914.90,"b":-1.2},{"x":1914.93,"b":-0.2},{"x":1914.95,"b":0.5},{"x":1914.98,"b":2.0},
{"x":1915.00,"b":3.2},{"x":1915.05,"b":0.8},{"x":1915.08,"b":5.2},{"x":1915.10,"b":3.9},{"x":1915.15,"b":2.4},{"x":1915.20,"b":4.7},{"x":1915.25,"b":1.7},{"x":1915.30,"b":3.2},{"x":1915.35,"b":1.1},{"x":1915.37,"b":-0.2},{"x":1915.40,"b":4.2},{"x":1915.45,"b":4.9},{"x":1915.50,"b":2.9},{"x":1915.55,"b":2.5},{"x":1915.60,"b":4.4},{"x":1915.65,"b":5.8},{"x":1915.70,"b":1.8},{"x":1915.72,"b":6.6},{"x":1915.75,"b":5.1},{"x":1915.80,"b":3.6},{"x":1915.82,"b":-0.6},{"x":1915.85,"b":4.0},{"x":1915.90,"b":2.5},{"x":1915.95,"b":6.0},{"x":1916.00,"b":4.2},{"x":1916.05,"b":3.1},{"x":1916.10,"b":5.3},{"x":1916.15,"b":2.0},{"x":1916.18,"b":6.4},{"x":1916.20,"b":4.7},{"x":1916.25,"b":5.8},{"x":1916.30,"b":2.9},{"x":1916.35,"b":3.8},{"x":1916.40,"b":5.5},{"x":1916.42,"b":6.1},{"x":1916.45,"b":2.2},{"x":1916.50,"b":4.4},{"x":1916.55,"b":3.1},{"x":1916.60,"b":5.7},{"x":1916.65,"b":1.9},{"x":1916.70,"b":3.9},{"x":1916.75,"b":2.3},{"x":1916.80,"b":3.6},{"x":1916.85,"b":0.1},{"x":1916.90,"b":2.2},
{"x":1916.95,"b":2.2},{"x":1917.00,"b":1.7},{"x":1917.05,"b":0.1},{"x":1917.10,"b":1.6},{"x":1917.15,"b":0.6},{"x":1917.20,"b":1.6},{"x":1917.25,"b":-0.3},{"x":1917.30,"b":0.2},{"x":1917.35,"b":-1.2},{"x":1917.40,"b":0.2},{"x":1917.45,"b":-4.2},{"x":1917.55,"b":-5.8},{"x":1917.62,"b":-6.9},{"x":1917.58,"b":-4.8},
{"x":1917.46,"b":-1.7},{"x":1917.52,"b":-3.5},{"x":1917.58,"b":-4.1},{"x":1917.64,"b":-2.6},{"x":1917.70,"b":-1.6},{"x":1917.76,"b":-4.8},{"x":1917.82,"b":-2.1},{"x":1917.88,"b":-3.4},{"x":1917.94,"b":-3.0},{"x":1918.00,"b":-4.3},{"x":1918.06,"b":-1.4},{"x":1918.12,"b":-2.8},{"x":1918.18,"b":-3.7},{"x":1918.24,"b":-1.9},{"x":1918.30,"b":-4.6},{"x":1918.36,"b":-2.5},{"x":1918.42,"b":-1.6},{"x":1918.48,"b":-3.9},{"x":1918.54,"b":-2.7},{"x":1918.60,"b":-1.4},{"x":1918.66,"b":-3.6},{"x":1918.72,"b":-2.0},{"x":1918.78,"b":-2.6},{"x":1918.84,"b":-0.6},{"x":1918.90,"b":-3.0},{"x":1918.96,"b":-1.4},{"x":1919.02,"b":-2.2},{"x":1919.08,"b":-1.1},{"x":1919.14,"b":-3.3},{"x":1919.20,"b":-1.6},{"x":1919.26,"b":-0.7},{"x":1919.32,"b":-1.1},{"x":1919.38,"b":-2.7},{"x":1919.44,"b":-0.5},{"x":1919.50,"b":-1.5},
{"x":1919.56,"b":-0.1},{"x":1919.62,"b":-1.9},{"x":1919.68,"b":-1.1},{"x":1919.74,"b":-2.4},{"x":1919.80,"b":-0.7},{"x":1919.86,"b":-0.3},{"x":1919.92,"b":-1.6},{"x":1919.98,"b":-2.0},{"x":1920.04,"b":-0.9},{"x":1920.10,"b":-0.1},{"x":1920.16,"b":-2.4},{"x":1920.20,"b":1.1},{"x":1920.22,"b":-0.5},{"x":1920.28,"b":-1.4},{"x":1920.34,"b":-1.1},{"x":1920.40,"b":-2.0},{"x":1920.46,"b":0.1},{"x":1920.52,"b":-0.9},{"x":1920.58,"b":-1.5},{"x":1920.64,"b":-0.2},{"x":1920.70,"b":-2.2},{"x":1920.76,"b":-0.6},{"x":1920.82,"b":0.1},{"x":1920.88,"b":-1.6},{"x":1920.94,"b":-1.0},
{"x":1921.00,"b":0.0},{"x":1921.06,"b":-1.9},{"x":1921.12,"b":-0.6},{"x":1921.18,"b":-1.3},{"x":1921.24,"b":0.4},{"x":1921.30,"b":-1.6},{"x":1921.36,"b":-0.3},{"x":1921.42,"b":-1.1},{"x":1921.48,"b":-0.2},{"x":1921.54,"b":-2.1},{"x":1921.60,"b":-0.7},{"x":1921.66,"b":-0.1},{"x":1921.72,"b":-0.4},{"x":1921.78,"b":-1.8},{"x":1921.84,"b":0.0},{"x":1921.90,"b":-0.9},{"x":1921.96,"b":0.4},{"x":1922.02,"b":-1.4},{"x":1922.08,"b":-0.6},{"x":1922.14,"b":-2.0},{"x":1922.20,"b":-0.2},{"x":1922.26,"b":0.2},{"x":1922.32,"b":-1.1},{"x":1922.38,"b":-1.5},{"x":1922.44,"b":-0.5},{"x":1922.50,"b":0.3},{"x":1922.56,"b":-2.0},{"x":1922.62,"b":0.0},{"x":1922.68,"b":-1.0},{"x":1922.74,"b":-0.7},{"x":1922.80,"b":-1.6},{"x":1922.86,"b":0.5},{"x":1922.92,"b":-0.5},{"x":1922.98,"b":-1.2},{"x":1923.04,"b":0.1},{"x":1923.10,"b":-1.8},{"x":1923.16,"b":-0.2},{"x":1923.22,"b":0.4},{"x":1923.28,"b":-1.3},{"x":1923.34,"b":-0.8},{"x":1923.40,"b":0.3},{"x":1923.46,"b":-1.6},{"x":1923.50,"b":-2.9},{"x":1923.52,"b":-0.3},{"x":1923.58,"b":-1.0},{"x":1923.64,"b":0.7},{"x":1923.70,"b":-1.3},{"x":1923.76,"b":-0.1},{"x":1923.82,"b":-0.8},{"x":1923.88,"b":0.1},{"x":1923.94,"b":-1.8},{"x":1924.00,"b":-0.4},{"x":1924.06,"b":0.2},{"x":1924.12,"b":-0.1},{"x":1924.18,"b":-1.5},{"x":1924.24,"b":0.3},{"x":1924.30,"b":-0.6},{"x":1924.36,"b":0.7},{"x":1924.42,"b":-1.1},{"x":1924.48,"b":-0.3},{"x":1924.54,"b":-1.6},{"x":1924.60,"b":0.1},{"x":1924.66,"b":0.5},{"x":1924.72,"b":-0.8},{"x":1924.78,"b":-1.2},{"x":1924.84,"b":-0.2},{"x":1924.90,"b":0.6},{"x":1924.96,"b":-1.7},{"x":1925.02,"b":0.2},{"x":1925.08,"b":-0.6},{"x":1925.14,"b":-0.4},{"x":1925.20,"b":-1.3},{"x":1925.26,"b":0.8},{"x":1925.32,"b":-0.2},{"x":1925.38,"b":-0.9},{"x":1925.44,"b":0.4},{"x":1925.50,"b":-1.5},{"x":1925.56,"b":0.1},{"x":1925.62,"b":0.7},{"x":1925.68,"b":-1.0},{"x":1925.74,"b":-0.5},{"x":1925.80,"b":0.6},{"x":1925.86,"b":-1.3},{"x":1925.92,"b":0.0},{"x":1925.98,"b":-0.7},{"x":1926.04,"b":1.0},{"x":1926.10,"b":-1.1},{"x":1926.16,"b":0.2},{"x":1926.22,"b":-0.5},{"x":1926.28,"b":0.4},{"x":1926.34,"b":-1.5},{"x":1926.40,"b":-0.1},{"x":1926.46,"b":0.5},{"x":1926.52,"b":0.2},{"x":1926.58,"b":-1.2},{"x":1926.62,"b":0.6},
{"x":1918.53,"b":-3.5},{"x":1918.65,"b":-0.9},{"x":1918.77,"b":-2.6},{"x":1918.89,"b":-1.4},{"x":1919.01,"b":-3.6},{"x":1919.13,"b":-0.6},{"x":1919.25,"b":-1.6},{"x":1919.37,"b":-2.1},{"x":1919.49,"b":0.1},{"x":1919.61,"b":-2.6},{"x":1919.73,"b":-0.7},{"x":1919.85,"b":-0.2},{"x":1919.97,"b":-2.0},{"x":1920.09,"b":0.6},{"x":1920.21,"b":-1.3},{"x":1920.33,"b":-2.6},{"x":1920.45,"b":-0.2},{"x":1920.57,"b":-0.7},{"x":1920.69,"b":-2.2},{"x":1920.81,"b":0.6},{"x":1920.93,"b":-1.4},{"x":1921.05,"b":-0.7},{"x":1921.17,"b":0.3},{"x":1921.29,"b":-2.6},{"x":1921.41,"b":-0.2},{"x":1921.53,"b":-1.2},{"x":1921.65,"b":0.5},{"x":1921.77,"b":-1.8},{"x":1921.89,"b":-0.8},{"x":1922.01,"b":0.2},{"x":1922.13,"b":-2.1},{"x":1922.25,"b":-0.2},{"x":1922.37,"b":-1.4},{"x":1922.49,"b":1.0},{"x":1922.61,"b":-1.6},{"x":1922.73,"b":-0.3},{"x":1922.85,"b":-2.2},{"x":1922.97,"b":-1.7},{"x":1923.09,"b":0.9},{"x":1923.21,"b":-1.0},{"x":1923.33,"b":0.1},{"x":1923.45,"b":-2.3},{"x":1923.57,"b":0.6},{"x":1923.69,"b":-0.6},{"x":1923.81,"b":-1.2},{"x":1923.93,"b":0.8},{"x":1924.05,"b":-1.9},{"x":1924.17,"b":0.0},{"x":1924.29,"b":0.5},{"x":1924.41,"b":-1.3},{"x":1924.53,"b":1.2},{"x":1924.65,"b":-0.6},{"x":1924.77,"b":-2.0},{"x":1924.89,"b":0.4},{"x":1925.01,"b":-0.1},{"x":1925.13,"b":-1.6},{"x":1925.25,"b":1.2},{"x":1925.37,"b":-0.9},{"x":1925.49,"b":-0.2},{"x":1925.61,"b":0.9},{"x":1925.73,"b":-2.0},{"x":1925.85,"b":0.4},{"x":1925.97,"b":-0.6},{"x":1926.09,"b":1.1},{"x":1926.21,"b":-1.3},{"x":1926.33,"b":-0.2},{"x":1926.45,"b":0.8},{"x":1926.57,"b":-1.6}
],
"md": [
{"x":1899.30,"k":14.9},{"x":1899.60,"k":14.8},{"x":1899.70,"k":14.3},{"x":1899.82,"k":12.5},{"x":1899.92,"k":9.2},{"x":1900.02,"k":5.8},{"x":1900.22,"k":3.2},{"x":1900.63,"k":2.1},{"x":1901.00,"k":1.6},{"x":1901.54,"k":1.1},{"x":1902.25,"k":1.1},{"x":1902.75,"k":2.1},{"x":1903.26,"k":2.7},{"x":1903.70,"k":2.5},{"x":1904.07,"k":2.6},{"x":1904.37,"k":2.0},{"x":1905.00,"k":1.8},{"x":1905.68,"k":1.5},{"x":1906.60,"k":1.2},{"x":1907.70,"k":0.8},{"x":1908.70,"k":0.6},{"x":1909.73,"k":0.3},{"x":1910.60,"k":0.0},{"x":1911.55,"k":-0.4},{"x":1912.16,"k":-0.5},{"x":1912.46,"k":0.5},{"x":1913.60,"k":1.7},{"x":1913.63,"k":7.3},{"x":1914.08,"k":7.3},{"x":1914.18,"k":2.5},{"x":1914.48,"k":-3.2},{"x":1914.89,"k":-4.2},{"x":1915.39,"k":-4.9},{"x":1915.60,"k":-3.2},{"x":1916.30,"k":-2.3},{"x":1917.52,"k":-2.3},{"x":1917.92,"k":-1.4},{"x":1918.63,"k":0.3},{"x":1919.54,"k":0.6},{"x":1919.84,"k":0.0},{"x":1920.95,"k":-0.3},{"x":1922.16,"k":-0.7},{"x":1923.38,"k":-0.7},{"x":1925.00,"k":-1.0},{"x":1926.41,"k":-1.2}
],
"p3": [
{"x":1899.90,"m":17.38,"e":0.03},{"x":1899.95,"m":17.30,"e":0.03},{"x":1899.97,"m":17.60,"e":0.03},{"x":1900.00,"m":17.11,"e":0.03},{"x":1900.05,"m":17.37,"e":0.03},{"x":1900.10,"m":17.25,"e":0.03},{"x":1900.15,"m":17.35,"e":0.03},{"x":1900.20,"m":17.18,"e":0.03},{"x":1900.25,"m":17.45,"e":0.03},{"x":1900.30,"m":17.24,"e":0.03},{"x":1900.35,"m":17.32,"e":0.03},{"x":1900.40,"m":17.15,"e":0.03},{"x":1900.45,"m":17.41,"e":0.03},{"x":1900.50,"m":17.27,"e":0.03},{"x":1900.55,"m":17.21,"e":0.03},{"x":1900.60,"m":17.43,"e":0.03},{"x":1900.65,"m":17.34,"e":0.03},{"x":1900.70,"m":17.15,"e":0.03},{"x":1900.75,"m":17.40,"e":0.03},{"x":1900.80,"m":17.23,"e":0.03},{"x":1900.85,"m":17.32,"e":0.03},{"x":1900.90,"m":17.45,"e":0.03},{"x":1900.95,"m":17.18,"e":0.03},{"x":1901.00,"m":17.30,"e":0.03},{"x":1901.05,"m":17.27,"e":0.03},{"x":1901.10,"m":17.40,"e":0.03},{"x":1901.15,"m":17.14,"e":0.03},{"x":1901.20,"m":17.46,"e":0.03},{"x":1901.25,"m":17.35,"e":0.03},{"x":1901.30,"m":17.22,"e":0.03},{"x":1901.35,"m":17.28,"e":0.03},{"x":1901.40,"m":17.45,"e":0.03},{"x":1901.45,"m":17.41,"e":0.03},{"x":1901.50,"m":17.19,"e":0.03},{"x":1901.55,"m":17.36,"e":0.03},{"x":1901.60,"m":17.27,"e":0.03},{"x":1901.65,"m":17.50,"e":0.03},{"x":1901.70,"m":17.34,"e":0.03},{"x":1901.75,"m":17.46,"e":0.03},{"x":1901.80,"m":17.22,"e":0.03},{"x":1901.85,"m":17.42,"e":0.03},{"x":1901.90,"m":17.47,"e":0.03},{"x":1901.95,"m":17.40,"e":0.03},
{"x":1902.00,"m":17.20,"e":0.04},{"x":1902.05,"m":17.48,"e":0.04},{"x":1902.10,"m":17.37,"e":0.04},{"x":1902.15,"m":17.49,"e":0.04},{"x":1902.20,"m":17.32,"e":0.04},{"x":1902.25,"m":17.62,"e":0.04},{"x":1902.30,"m":17.40,"e":0.04},{"x":1902.35,"m":17.50,"e":0.04},{"x":1902.40,"m":17.34,"e":0.04},{"x":1902.45,"m":17.62,"e":0.04},{"x":1902.50,"m":17.48,"e":0.04},{"x":1902.55,"m":17.42,"e":0.04},{"x":1902.60,"m":17.66,"e":0.04},{"x":1902.65,"m":17.59,"e":0.04},{"x":1902.70,"m":17.39,"e":0.04},{"x":1902.75,"m":17.67,"e":0.04},{"x":1902.80,"m":17.50,"e":0.04},{"x":1902.85,"m":17.60,"e":0.04},{"x":1902.90,"m":17.76,"e":0.04},{"x":1902.95,"m":17.48,"e":0.04},
{"x":1903.00,"m":17.62,"e":0.05},{"x":1903.05,"m":17.60,"e":0.05},{"x":1903.10,"m":17.75,"e":0.05},{"x":1903.15,"m":17.47,"e":0.05},{"x":1903.16,"m":18.22,"e":0.06},{"x":1903.20,"m":17.84,"e":0.05},{"x":1903.25,"m":17.74,"e":0.05},{"x":1903.30,"m":17.59,"e":0.05},{"x":1903.35,"m":17.67,"e":0.05},{"x":1903.40,"m":17.88,"e":0.05},{"x":1903.45,"m":17.84,"e":0.05},{"x":1903.50,"m":17.59,"e":0.05},{"x":1903.55,"m":17.81,"e":0.05},{"x":1903.60,"m":17.70,"e":0.05},{"x":1903.65,"m":18.00,"e":0.05},{"x":1903.70,"m":17.81,"e":0.05},{"x":1903.75,"m":17.97,"e":0.05},{"x":1903.80,"m":17.70,"e":0.05},{"x":1903.85,"m":17.94,"e":0.05},{"x":1903.90,"m":18.01,"e":0.05},{"x":1903.95,"m":17.93,"e":0.05},
{"x":1904.00,"m":17.72,"e":0.07},{"x":1904.05,"m":18.05,"e":0.07},{"x":1904.06,"m":18.40,"e":0.07},{"x":1904.10,"m":17.89,"e":0.07},{"x":1904.15,"m":18.05,"e":0.07},{"x":1904.20,"m":17.83,"e":0.07},{"x":1904.25,"m":18.22,"e":0.07},{"x":1904.30,"m":17.92,"e":0.07},{"x":1904.35,"m":18.05,"e":0.07},{"x":1904.40,"m":17.82,"e":0.07},{"x":1904.45,"m":18.19,"e":0.07},{"x":1904.50,"m":18.02,"e":0.07},{"x":1904.55,"m":17.93,"e":0.07},{"x":1904.60,"m":18.25,"e":0.07},{"x":1904.65,"m":18.14,"e":0.07},{"x":1904.70,"m":17.86,"e":0.07},{"x":1904.75,"m":18.23,"e":0.07},{"x":1904.80,"m":18.00,"e":0.07},{"x":1904.85,"m":18.14,"e":0.07},{"x":1904.90,"m":18.35,"e":0.07},{"x":1904.95,"m":17.97,"e":0.07},
{"x":1905.00,"m":18.15,"e":0.1},{"x":1905.05,"m":18.11,"e":0.1},{"x":1905.10,"m":18.33,"e":0.1},{"x":1905.15,"m":17.90,"e":0.1},{"x":1905.20,"m":18.45,"e":0.1},{"x":1905.25,"m":18.29,"e":0.1},{"x":1905.30,"m":18.06,"e":0.1},{"x":1905.35,"m":18.17,"e":0.1},{"x":1905.40,"m":18.48,"e":0.1},{"x":1905.45,"m":18.41,"e":0.1},{"x":1905.50,"m":18.03,"e":0.1},{"x":1905.55,"m":18.35,"e":0.1},{"x":1905.60,"m":18.18,"e":0.1},{"x":1905.65,"m":18.62,"e":0.1},{"x":1905.70,"m":18.33,"e":0.1},{"x":1905.75,"m":18.56,"e":0.1},{"x":1905.80,"m":18.15,"e":0.1},{"x":1905.85,"m":18.50,"e":0.1},{"x":1905.88,"m":19.00,"e":0.15},{"x":1905.90,"m":18.60,"e":0.1},{"x":1905.95,"m":18.47,"e":0.1},
{"x":1906.00,"m":18.15,"e":0.15},{"x":1906.05,"m":18.65,"e":0.15},{"x":1906.10,"m":18.42,"e":0.15},{"x":1906.15,"m":18.65,"e":0.15},{"x":1906.20,"m":18.32,"e":0.15},{"x":1906.22,"m":19.40,"e":0.2},{"x":1906.25,"m":18.92,"e":0.15},{"x":1906.30,"m":18.47,"e":0.15},{"x":1906.35,"m":18.67,"e":0.15},{"x":1906.40,"m":18.33,"e":0.15},{"x":1906.45,"m":18.89,"e":0.15},{"x":1906.50,"m":18.63,"e":0.15},{"x":1906.52,"m":19.55,"e":0.2},{"x":1906.55,"m":18.51,"e":0.15},{"x":1906.60,"m":19.00,"e":0.15},{"x":1906.65,"m":18.84,"e":0.15},{"x":1906.70,"m":18.43,"e":0.15},{"x":1906.75,"m":18.99,"e":0.15},{"x":1906.80,"m":18.66,"e":0.15},{"x":1906.85,"m":18.86,"e":0.15},{"x":1906.87,"m":18.02,"e":0.06},{"x":1906.90,"m":19.16,"e":0.15},{"x":1906.95,"m":18.61,"e":0.15},
{"x":1907.00,"m":18.88,"e":0.2},{"x":1907.05,"m":18.82,"e":0.2},{"x":1907.10,"m":19.10,"e":0.2},{"x":1907.15,"m":18.55,"e":0.2},{"x":1907.20,"m":19.24,"e":0.2},{"x":1907.25,"m":19.04,"e":0.2},{"x":1907.30,"m":18.75,"e":0.2},{"x":1907.35,"m":18.88,"e":0.2},{"x":1907.40,"m":19.28,"e":0.2},{"x":1907.45,"m":19.17,"e":0.2},{"x":1907.50,"m":18.70,"e":0.2},{"x":1907.55,"m":19.10,"e":0.2},{"x":1907.60,"m":18.88,"e":0.2},{"x":1907.65,"m":19.43,"e":0.2},{"x":1907.70,"m":19.06,"e":0.2},{"x":1907.75,"m":19.35,"e":0.2},{"x":1907.80,"m":18.84,"e":0.2},{"x":1907.85,"m":19.26,"e":0.2},{"x":1907.90,"m":19.40,"e":0.2},{"x":1907.95,"m":19.22,"e":0.2},
{"x":1908.00,"m":18.82,"e":0.25},{"x":1908.05,"m":19.38,"e":0.25},{"x":1908.10,"m":19.15,"e":0.25},{"x":1908.15,"m":19.36,"e":0.25},{"x":1908.20,"m":19.03,"e":0.25},{"x":1908.25,"m":19.58,"e":0.25},{"x":1908.30,"m":19.15,"e":0.25},{"x":1908.35,"m":19.33,"e":0.25},{"x":1908.40,"m":19.00,"e":0.25},{"x":1908.45,"m":19.51,"e":0.25},{"x":1908.50,"m":19.25,"e":0.25},{"x":1908.55,"m":19.12,"e":0.25},{"x":1908.60,"m":19.57,"e":0.25},{"x":1908.65,"m":19.41,"e":0.25},{"x":1908.70,"m":19.01,"e":0.25},{"x":1908.75,"m":19.52,"e":0.25},{"x":1908.80,"m":19.19,"e":0.25},{"x":1908.85,"m":19.37,"e":0.25},{"x":1908.90,"m":19.66,"e":0.25},{"x":1908.95,"m":19.12,"e":0.25},{"x":1909.00,"m":19.37,"e":0.25},{"x":1909.05,"m":19.31,"e":0.25},{"x":1909.10,"m":19.55,"e":0.25},{"x":1909.15,"m":19.05,"e":0.25},{"x":1909.20,"m":19.67,"e":0.25},{"x":1909.40,"m":19.48,"e":0.28},{"x":1909.99,"m":19.42,"e":0.16},
{"x":1899.925,"m":17.13,"e":0.03},{"x":1899.975,"m":17.48,"e":0.03},{"x":1900.025,"m":17.21,"e":0.03},{"x":1900.075,"m":17.30,"e":0.03},{"x":1900.125,"m":17.43,"e":0.03},{"x":1900.175,"m":17.06,"e":0.03},{"x":1900.225,"m":17.37,"e":0.03},{"x":1900.275,"m":17.24,"e":0.03},{"x":1900.325,"m":17.47,"e":0.03},{"x":1900.375,"m":17.16,"e":0.03},{"x":1900.425,"m":17.29,"e":0.03},{"x":1900.475,"m":17.42,"e":0.03},{"x":1900.525,"m":17.11,"e":0.03},{"x":1900.575,"m":17.36,"e":0.03},{"x":1900.625,"m":17.20,"e":0.03},{"x":1900.675,"m":17.51,"e":0.03},{"x":1900.725,"m":17.19,"e":0.03},{"x":1900.775,"m":17.34,"e":0.03},{"x":1900.825,"m":17.10,"e":0.03},{"x":1900.875,"m":17.17,"e":0.03},{"x":1900.925,"m":17.50,"e":0.03},{"x":1900.975,"m":17.26,"e":0.03},{"x":1901.025,"m":17.39,"e":0.03},{"x":1901.075,"m":17.08,"e":0.03},{"x":1901.125,"m":17.46,"e":0.03},{"x":1901.175,"m":17.31,"e":0.03},{"x":1901.225,"m":17.23,"e":0.03},{"x":1901.275,"m":17.50,"e":0.03},{"x":1901.325,"m":17.14,"e":0.03},{"x":1901.375,"m":17.40,"e":0.03},{"x":1901.425,"m":17.46,"e":0.03},{"x":1901.475,"m":17.23,"e":0.03},{"x":1901.525,"m":17.56,"e":0.03},{"x":1901.575,"m":17.32,"e":0.03},{"x":1901.625,"m":17.15,"e":0.03},{"x":1901.675,"m":17.46,"e":0.03},{"x":1901.725,"m":17.40,"e":0.03},{"x":1901.775,"m":17.21,"e":0.03},{"x":1901.825,"m":17.56,"e":0.03},{"x":1901.875,"m":17.30,"e":0.03},{"x":1901.925,"m":17.39,"e":0.03},{"x":1901.975,"m":17.53,"e":0.03},
{"x":1902.025,"m":17.15,"e":0.04},{"x":1902.075,"m":17.48,"e":0.04},{"x":1902.125,"m":17.36,"e":0.04},{"x":1902.175,"m":17.60,"e":0.04},{"x":1902.225,"m":17.29,"e":0.04},{"x":1902.275,"m":17.44,"e":0.04},{"x":1902.325,"m":17.59,"e":0.04},{"x":1902.375,"m":17.28,"e":0.04},{"x":1902.425,"m":17.55,"e":0.04},{"x":1902.475,"m":17.40,"e":0.04},{"x":1902.525,"m":17.73,"e":0.04},{"x":1902.575,"m":17.40,"e":0.04},{"x":1902.625,"m":17.57,"e":0.04},{"x":1902.675,"m":17.33,"e":0.04},{"x":1902.725,"m":17.41,"e":0.04},{"x":1902.775,"m":17.77,"e":0.04},{"x":1902.825,"m":17.52,"e":0.04},{"x":1902.875,"m":17.67,"e":0.04},{"x":1902.925,"m":17.37,"e":0.04},{"x":1902.975,"m":17.77,"e":0.04},
{"x":1903.025,"m":17.62,"e":0.05},{"x":1903.075,"m":17.54,"e":0.05},{"x":1903.125,"m":17.86,"e":0.05},{"x":1903.175,"m":17.46,"e":0.05},{"x":1903.225,"m":17.76,"e":0.05},{"x":1903.275,"m":17.86,"e":0.05},{"x":1903.325,"m":17.58,"e":0.05},{"x":1903.375,"m":17.99,"e":0.05},{"x":1903.425,"m":17.71,"e":0.05},{"x":1903.475,"m":17.53,"e":0.05},{"x":1903.525,"m":17.90,"e":0.05},{"x":1903.575,"m":17.84,"e":0.05},{"x":1903.625,"m":17.62,"e":0.05},{"x":1903.675,"m":18.05,"e":0.05},{"x":1903.725,"m":17.75,"e":0.05},{"x":1903.775,"m":17.88,"e":0.05},{"x":1903.825,"m":18.04,"e":0.05},{"x":1903.875,"m":17.62,"e":0.05},{"x":1903.925,"m":17.99,"e":0.05},{"x":1903.975,"m":17.86,"e":0.05},
{"x":1904.025,"m":18.17,"e":0.07},{"x":1904.075,"m":17.74,"e":0.07},{"x":1904.125,"m":17.94,"e":0.07},{"x":1904.175,"m":18.14,"e":0.07},{"x":1904.225,"m":17.72,"e":0.07},{"x":1904.275,"m":18.07,"e":0.07},{"x":1904.325,"m":17.87,"e":0.07},{"x":1904.375,"m":18.31,"e":0.07},{"x":1904.425,"m":17.86,"e":0.07},{"x":1904.475,"m":18.08,"e":0.07},{"x":1904.525,"m":17.76,"e":0.07},{"x":1904.575,"m":17.86,"e":0.07},{"x":1904.625,"m":18.34,"e":0.07},{"x":1904.675,"m":18.01,"e":0.07},{"x":1904.725,"m":18.20,"e":0.07},{"x":1904.775,"m":17.78,"e":0.07},{"x":1904.825,"m":18.32,"e":0.07},{"x":1904.875,"m":18.12,"e":0.07},{"x":1904.925,"m":18.01,"e":0.07},{"x":1904.975,"m":18.39,"e":0.07},
{"x":1905.025,"m":17.84,"e":0.1},{"x":1905.075,"m":18.29,"e":0.1},{"x":1905.125,"m":18.41,"e":0.1},{"x":1905.175,"m":18.01,"e":0.1},{"x":1905.225,"m":18.60,"e":0.1},{"x":1905.275,"m":18.19,"e":0.1},{"x":1905.325,"m":17.89,"e":0.1},{"x":1905.375,"m":18.46,"e":0.1},{"x":1905.425,"m":18.35,"e":0.1},{"x":1905.475,"m":18.02,"e":0.1},{"x":1905.525,"m":18.65,"e":0.1},{"x":1905.575,"m":18.20,"e":0.1},{"x":1905.625,"m":18.37,"e":0.1},{"x":1905.675,"m":18.62,"e":0.1},{"x":1905.725,"m":17.97,"e":0.1},{"x":1905.775,"m":18.54,"e":0.1},{"x":1905.825,"m":18.31,"e":0.1},{"x":1905.875,"m":18.72,"e":0.1},{"x":1905.925,"m":18.19,"e":0.1},{"x":1905.975,"m":18.44,"e":0.1},
{"x":1906.025,"m":18.73,"e":0.15},{"x":1906.075,"m":18.09,"e":0.15},{"x":1906.125,"m":18.63,"e":0.15},{"x":1906.175,"m":18.32,"e":0.15},{"x":1906.225,"m":19.01,"e":0.15},{"x":1906.275,"m":18.33,"e":0.15},{"x":1906.325,"m":18.67,"e":0.15},{"x":1906.375,"m":18.18,"e":0.15},{"x":1906.425,"m":18.34,"e":0.15},{"x":1906.475,"m":19.06,"e":0.15},{"x":1906.525,"m":18.58,"e":0.15},{"x":1906.575,"m":18.88,"e":0.15},{"x":1906.625,"m":18.24,"e":0.15},{"x":1906.675,"m":19.06,"e":0.15},{"x":1906.725,"m":18.75,"e":0.15},{"x":1906.775,"m":18.58,"e":0.15},{"x":1906.825,"m":19.18,"e":0.15},{"x":1906.875,"m":18.44,"e":0.15},{"x":1906.925,"m":18.98,"e":0.15},{"x":1906.975,"m":19.14,"e":0.15},
{"x":1907.025,"m":18.63,"e":0.2},{"x":1907.075,"m":19.40,"e":0.2},{"x":1907.125,"m":18.86,"e":0.2},{"x":1907.175,"m":18.48,"e":0.2},{"x":1907.225,"m":19.19,"e":0.2},{"x":1907.275,"m":19.06,"e":0.2},{"x":1907.325,"m":18.63,"e":0.2},{"x":1907.375,"m":19.44,"e":0.2},{"x":1907.425,"m":18.86,"e":0.2},{"x":1907.475,"m":19.07,"e":0.2},{"x":1907.525,"m":19.39,"e":0.2},{"x":1907.575,"m":18.56,"e":0.2},{"x":1907.625,"m":19.27,"e":0.2},{"x":1907.675,"m":18.99,"e":0.2},{"x":1907.725,"m":19.50,"e":0.2},{"x":1907.775,"m":18.82,"e":0.2},{"x":1907.825,"m":19.14,"e":0.2},{"x":1907.875,"m":19.45,"e":0.2},{"x":1907.925,"m":18.77,"e":0.2},{"x":1907.975,"m":19.33,"e":0.2},
{"x":1908.025,"m":19.03,"e":0.25},{"x":1908.075,"m":19.63,"e":0.25},{"x":1908.125,"m":19.01,"e":0.25},{"x":1908.175,"m":19.30,"e":0.25},{"x":1908.225,"m":18.85,"e":0.25},{"x":1908.275,"m":18.99,"e":0.25},{"x":1908.325,"m":19.63,"e":0.25},{"x":1908.375,"m":19.18,"e":0.25},{"x":1908.425,"m":19.44,"e":0.25},{"x":1908.475,"m":18.85,"e":0.25},{"x":1908.525,"m":19.57,"e":0.25},{"x":1908.575,"m":19.29,"e":0.25},{"x":1908.625,"m":19.13,"e":0.25},{"x":1908.675,"m":19.65,"e":0.25},{"x":1908.725,"m":18.98,"e":0.25},{"x":1908.775,"m":19.45,"e":0.25},{"x":1908.825,"m":19.58,"e":0.25},{"x":1908.875,"m":19.13,"e":0.25},{"x":1908.925,"m":19.77,"e":0.25},{"x":1908.975,"m":19.32,"e":0.25},{"x":1909.025,"m":18.99,"e":0.25},{"x":1909.075,"m":19.59,"e":0.25},{"x":1909.125,"m":19.46,"e":0.25},{"x":1909.175,"m":19.10,"e":0.25},{"x":1909.225,"m":19.78,"e":0.25}
]
},
"vconcat": [
{
 "width": 496, "height": 123,
 "layer": [
  {"data": {"name": "p1"}, "mark": {"type": "errorbar", "color": "black", "thickness": 1.5},
   "encoding": {
    "x": {"field": "x", "type": "quantitative", "scale": {"domain": [1897.7, 1927.8], "nice": false, "zero": false}, "axis": null},
    "y": {"field": "m", "type": "quantitative", "scale": {"domain": [16.7, 20.12], "reverse": true, "nice": false, "zero": false}, "axis": {"title": "T mag", "values": [17, 18, 19, 20], "format": "d"}},
    "yError": {"field": "e"}}},
  {"data": {"name": "p1"}, "mark": {"type": "circle", "color": "black", "size": 28, "opacity": 1},
   "encoding": {"x": {"field": "x", "type": "quantitative"}, "y": {"field": "m", "type": "quantitative"}}},
  {"mark": {"type": "rule", "color": "#ff0000", "strokeDash": [5.5, 2.4], "strokeWidth": 1.5},
   "encoding": {"x": {"datum": 1899.05, "type": "quantitative"}}},
  {"mark": {"type": "text", "align": "left", "baseline": "alphabetic", "fontSize": 16.5, "font": "DejaVu Sans", "color": "black"},
   "encoding": {"x": {"datum": 1899.2, "type": "quantitative"}, "y": {"datum": 17.05, "type": "quantitative"}, "text": {"value": "s32 cam4ccd4"}}}
 ]
},
{
 "width": 496, "height": 123,
 "layer": [
  {"data": {"name": "bk"}, "mark": {"type": "circle", "color": "#ff0000", "size": 32, "opacity": 1},
   "encoding": {
    "x": {"field": "x", "type": "quantitative", "scale": {"domain": [1897.7, 1927.8], "nice": false, "zero": false}, "axis": null},
    "y": {"field": "b", "type": "quantitative", "scale": {"domain": [-8.85, 15.9], "nice": false, "zero": false}, "axis": {"title": ["Bkg (red)/", "bkg_model (purple)"], "values": [0, 10], "format": "d"}}}},
  {"data": {"name": "md"}, "mark": {"type": "line", "color": "#bf00bf", "strokeWidth": 1.5},
   "encoding": {"x": {"field": "x", "type": "quantitative"}, "y": {"field": "k", "type": "quantitative"}}}
 ]
},
{
 "width": 496, "height": 123,
 "layer": [
  {"data": {"name": "p3"}, "mark": {"type": "errorbar", "color": "black", "thickness": 1.5},
   "encoding": {
    "x": {"field": "x", "type": "quantitative", "scale": {"domain": [1897.7, 1927.8], "nice": false, "zero": false}, "axis": {"title": "BTJD −2 457 000", "values": [1900, 1905, 1910, 1915, 1920, 1925], "format": "d", "labelFlush": false, "labelPadding": 7, "titlePadding": 4}},
    "y": {"field": "m", "type": "quantitative", "scale": {"domain": [16.84, 20.09], "reverse": true, "nice": false, "zero": false}, "axis": {"title": ["T mag −", "bkg_model"], "values": [17, 18, 19, 20], "format": "d"}},
    "yError": {"field": "e"}}},
  {"data": {"name": "p3"}, "mark": {"type": "circle", "color": "black", "size": 28, "opacity": 1},
   "encoding": {"x": {"field": "x", "type": "quantitative"}, "y": {"field": "m", "type": "quantitative"}}}
 ]
}
],
"spacing": 0,
"bounds": "flush"
}
